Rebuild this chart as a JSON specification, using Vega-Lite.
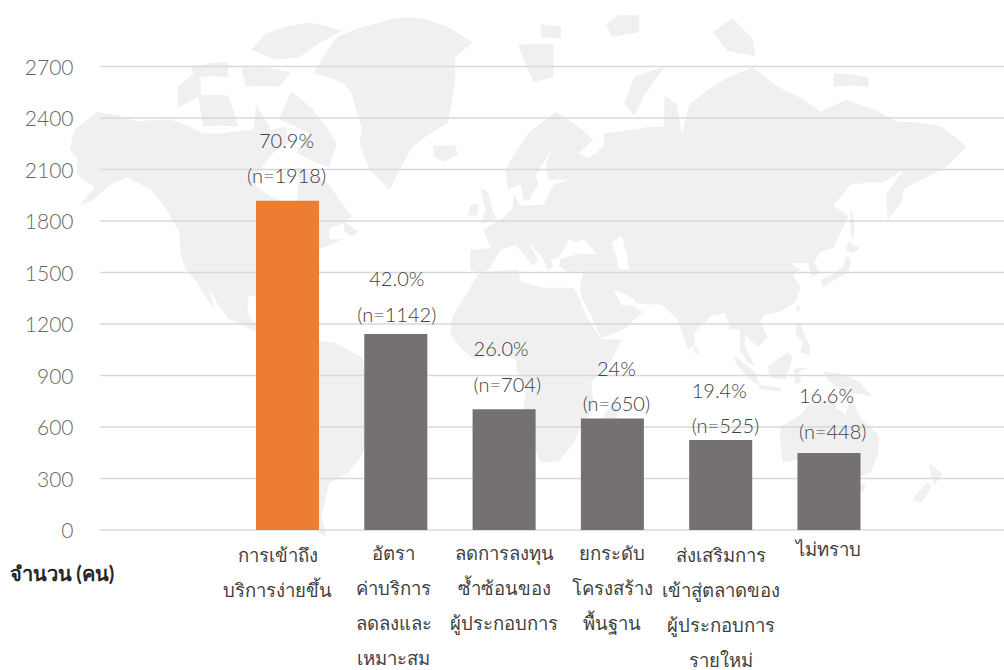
{
"$schema":"https://vega.github.io/schema/vega-lite/v6.json",
"width":904,"height":463.5,"autosize":{"type":"none"},"padding":{"left":100,"top":66.5,"right":0,"bottom":140},
"background":"white",
"config":{"view":{"stroke":null},"font":"Lato","text":{"fontWeight":300}},
"layer":[
{"data":{"values":{"type":"FeatureCollection","features":[{"type":"Feature","properties":{"name":"world"},"geometry":{"type":"MultiPolygon","coordinates":[
[[[-168,65.6],[-166,68.5],[-157,71],[-141,69.7],[-128,70],[-115,68],[-108,68],[-95,68.5],[-94,72],[-88,68.5],[-82,69],[-81,66.5],[-87,65],[-94,61],[-94,58.7],[-88,56.5],[-82,55],[-80,51.5],[-78,55],[-77,60],[-78,62.4],[-70,61],[-65,59],[-60,55],[-56,52],[-60,50],[-65,49],[-65,46],[-60,46],[-66,44],[-70,43],[-74,40.5],[-76,37],[-76,35],[-81,31],[-80,26],[-81,25],[-83,29],[-90,29],[-97,28],[-97.5,22],[-95,18.5],[-91,18.5],[-90,21],[-87,21],[-88,16],[-84,15],[-83.5,10],[-80,9],[-77.5,8.5],[-80,7],[-85,10],[-91,14],[-96,16],[-105,20],[-109,25],[-113,31],[-110,23],[-115,29],[-117.5,33],[-122,37],[-124,42],[-124.5,48],[-130,54],[-136,58],[-145,60.5],[-152,59],[-158,56],[-164,54.5],[-158,58.5],[-165,61],[-165,64],[-168,65.6]]],
[[[-80,73.5],[-72,71.5],[-62,66.5],[-65,62.5],[-72,63.5],[-78,65],[-73,68],[-85,70],[-80,73.5]]],
[[[-117,73],[-105,73],[-101,69],[-115,69],[-117,73]]],
[[[-125,74],[-116,76],[-116,73],[-125,71.5],[-125,74]]],
[[[-96,77.6],[-90,78.9],[-73,79.7],[-60,79.1],[-69,78.1],[-77,76.9],[-86,76.7],[-96,77.6]]],
[[[-100,76],[-80,75.5],[-85,74],[-98,74],[-100,76]]],
[[[-120,76],[-105,76.5],[-105,75],[-118,75],[-120,76]]],
[[[-59,50.5],[-53,48],[-56,46.8],[-59,48],[-59,50.5]]],
[[[-62,78.6],[-45,79.7],[-33,80.1],[-18,79.4],[-8,78.2],[-15,76.9],[-15,74.4],[-18,69.5],[-32,65.9],[-41,57.9],[-49,61.9],[-53,66.5],[-52,68.9],[-54,70.9],[-56,73.3],[-59.5,74.4],[-71,75.4],[-62,78.6]]],
[[[-24,66],[-15,66.3],[-14,64.7],[-19,63.4],[-23,64],[-24,66]]],
[[[-77,8],[-72,12],[-62,10.5],[-52,5],[-50,0],[-44,-2.5],[-35,-6],[-39,-15],[-41,-22],[-48,-26],[-54,-34.5],[-58,-38],[-65,-41],[-68,-50],[-66,-55],[-72,-53],[-74,-45],[-73,-37],[-70,-18],[-76,-14],[-81,-5],[-80,1],[-77.5,4],[-77,8]]],
[[[-6,35.5],[10,37],[11,33],[20,31],[32,31],[34,28],[37,21],[43,12],[51,12],[47,4],[39,-5],[40,-15],[35,-22],[32,-28],[26,-34],[19,-34.5],[15,-26],[12,-16],[13.5,-6],[9,0],[9.5,4],[4,6],[-8,4.5],[-13,9],[-17,14.5],[-16,21],[-10,29.5],[-6,35.5]]],
[[[49.5,-12],[50,-16],[47,-25],[44,-24],[44,-17],[49.5,-12]]],
[[[-9,43],[-1,43.5],[-4,48.5],[3,51],[8,54],[8,57],[11,54.5],[20,54.7],[24,59],[30,60],[22,60],[21,63],[24,66],[17,61],[18,59],[14,55.5],[12,56],[11,59],[6,58],[5,62],[14,68],[25,71],[40,67],[34,65],[38,64],[44,66],[44,68],[54,68.5],[68,69],[68,73],[73,72],[75,68],[78,72],[87,74],[103,76],[113,74],[130,71],[140,72.5],[160,69.7],[178,69],[188,66],[180,62.5],[170,60],[163,58],[162,55],[156.5,51],[156,57],[163,62],[155,59.5],[142,59],[135,54.5],[141,52],[135,43.5],[130,42.5],[127.5,39.5],[129.5,36],[126.5,34.5],[125,39],[121,39],[118,39],[122,37],[119,35],[122,31],[120,26],[114,22.5],[108,21.5],[106,19],[109,13],[105,9],[103,11],[100,13.5],[100,9],[104,1.5],[101,3],[98,8],[98,16],[94,16],[92,22],[87,21],[80,15],[80,10],[77.5,8],[73,20],[67,25],[57,25.5],[56,27],[50,30],[48,30],[51,25],[56,24.5],[59.5,22.5],[52,16],[43,12.5],[39,21],[35,28],[34.5,31.5],[36,36.5],[30,36],[26.5,38],[26.5,40.2],[35,42],[41.5,41.5],[38,44.5],[36,46],[33,45],[30,46],[28,43],[26,40.7],[23,40],[24,38],[22,36.7],[19.5,41],[14,45],[18,40],[16,38],[12,42],[9,44.3],[3,43],[0,39],[-2,36.7],[-6,36],[-9,37],[-9,43]],[[50,37],[54,37],[53,42],[51,47],[47,45],[49,41],[50,37]]],
[[[-5,58.5],[-2,57.5],[0,53],[1.5,51.3],[-5,50],[-3,53.5],[-5,58.5]]],
[[[-9,54.5],[-6,55],[-6,52.2],[-10,52],[-9,54.5]]],
[[[10,78],[24,78],[24,75],[16,74.5],[10,78]]],
[[[19,79.6],[27,79.4],[27,78.5],[19,78.6],[19,79.6]]],
[[[52,72],[56,75],[68,76],[60,73],[56,70.5],[52,72]]],
[[[45,79.6],[50,80.2],[58,80.2],[58,79],[47,78.6],[45,79.6]]],
[[[87,79],[95,80],[103,78.5],[104,77],[93,77.5],[87,79]]],
[[[135,75.4],[149,75],[149,74],[135,74],[135,75.4]]],
[[[142,54],[143.5,50],[143,46],[142,47],[141.8,52],[142,54]]],
[[[140,41],[141.5,41],[142,39],[141,36],[137,34.5],[131,31],[130,33.5],[135,35.5],[139,38],[140,41]]],
[[[141,45.5],[145.5,43.5],[143,42],[140,42.5],[141,45.5]]],
[[[121,25],[122,24],[120.8,22],[120,23.5],[121,25]]],
[[[120.5,18.5],[122,18],[124,13],[126,9],[125.5,6],[122,7],[123,11],[120,14],[120.5,18.5]]],
[[[109,1.5],[117,7],[119,5],[117.5,0.5],[116,-4],[110,-3],[109,1.5]]],
[[[95,5.5],[98,4],[104,-1],[106,-6],[102,-4],[97,2],[95,5.5]]],
[[[105.5,-6],[114,-7],[114.5,-8.5],[106,-7.5],[105.5,-6]]],
[[[119.5,0.5],[125,1],[121,-1],[122.5,-5],[120,-5.5],[119.5,0.5]]],
[[[131,-0.5],[138,-1.5],[145,-4.5],[150.5,-10.5],[143,-9],[138,-8],[133,-4],[131,-0.5]]],
[[[114,-22],[122,-17.5],[125,-14],[130,-12],[136,-12],[136,-15],[140,-17.5],[142,-11],[146,-19],[153,-25],[153,-31],[150,-37.5],[146,-39],[140,-38],[136,-35],[131,-31.5],[124,-33],[115,-34.5],[114,-27],[114,-22]]],
[[[145,-41],[148,-41],[147,-43.5],[146,-43.5],[145,-41]]],
[[[173,-34.5],[178.5,-38],[175,-41.5],[174,-39],[173,-34.5]]],
[[[172.5,-40.5],[174,-42],[170,-46.5],[166.5,-46],[168,-44],[172.5,-40.5]]],
[[[80,9.5],[82,7.5],[80.5,6],[79.8,8],[80,9.5]]],
[[[-85,22],[-80,23],[-74,20.2],[-78,20],[-85,22]]],
[[[-74,20],[-68.5,18.5],[-71.5,18],[-74,18.3],[-74,20]]]
]}}]},"format":{"type":"json","property":"features"}},
"projection":{"type":"mercator","scale":144.4,"translate":[420.7,303.5],"rotate":[-11,0,0]},
"mark":{"type":"geoshape","fill":"#f0f0f0","stroke":null,"clip":false},"encoding":{}},
{"data":{"values":[
{"k":"การเข้าถึง|บริการง่ายขึ้น","v":1918,"c":"o","t":"70.9%|(n=1918)"},
{"k":"อัตรา|ค่าบริการ|ลดลงและ|เหมาะสม","v":1142,"c":"g","t":"42.0%|(n=1142)"},
{"k":"ลดการลงทุน|ซ้ำซ้อนของ|ผู้ประกอบการ","v":704,"c":"g","t":"26.0%|(n=704)"},
{"k":"ยกระดับ|โครงสร้าง|พื้นฐาน","v":650,"c":"g","t":"24%|(n=650)"},
{"k":"ส่งเสริมการ|เข้าสู่ตลาดของ|ผู้ประกอบการ|รายใหม่","v":525,"c":"g","t":"19.4%|(n=525)"},
{"k":"ไม่ทราบ","v":448,"c":"g","t":"16.6%|(n=448)"}
]},
"encoding":{
"x":{"field":"k","type":"nominal","sort":null,"scale":{"paddingInner":0.418,"paddingOuter":1,"range":[47.7,868.8]},
"axis":{"title":null,"domain":false,"ticks":false,"labelAngle":0,"labelExpr":"split(datum.label,'|')","labelFontSize":18.5,"labelColor":"#404040","labelLineHeight":35,"labelBaseline":"top","labelLimit":200,
"labelPadding":{"condition":[{"test":"indexof(datum.value,'ไม่ทราบ')>=0","value":10},{"test":"indexof(datum.value,'การเข้าถึง')>=0 || indexof(datum.value,'ส่งเสริมการ')>=0","value":16}],"value":14},
"labelOffset":{"condition":[{"test":"indexof(datum.value,'การเข้าถึง')>=0","value":-10},{"test":"indexof(datum.value,'อัตรา')>=0","value":-2}],"value":0}}},
"y":{"field":"v","type":"quantitative","scale":{"domain":[0,2700]},
"axis":{"title":"จำนวน (คน)","titleAngle":0,"titleX":-91,"titleY":508,"titleAlign":"left","titleBaseline":"middle","titleFontSize":20,"titleFontWeight":"bold","titleColor":"#262626","format":"d","grid":false,
"values":[0,300,600,900,1200,1500,1800,2100,2400,2700],"domain":false,"ticks":false,"labelFontSize":21,"labelFontWeight":300,"labelColor":"#666666","labelPadding":27,"labelOffset":1.5}}
},
"layer":[
{"data":{"values":[{"g":0},{"g":300},{"g":600},{"g":900},{"g":1200},{"g":1500},{"g":1800},{"g":2100},{"g":2400},{"g":2700}]},
"mark":{"type":"rule","color":"#d9d9d9","strokeWidth":1.5},
"encoding":{"x":{"value":0},"x2":{"value":904},"y":{"field":"g","type":"quantitative"}}},
{"mark":{"type":"bar"},"encoding":{"color":{"field":"c","type":"nominal","legend":null,"scale":{"domain":["o","g"],"range":["#ed7d31","#767171"]}}}},
{"transform":[{"filter":"datum.v==1918"}],"mark":{"type":"text","baseline":"bottom","fontSize":20,"color":"#404040","lineHeight":35,"lineBreak":"|","dy":-49,"dx":-1},"encoding":{"text":{"field":"t"}}},
{"transform":[{"filter":"datum.v==1142"}],"mark":{"type":"text","baseline":"bottom","fontSize":20,"color":"#404040","lineHeight":36,"lineBreak":"|","dy":-44,"dx":1},"encoding":{"text":{"field":"t"}}},
{"transform":[{"filter":"datum.v==704"}],"mark":{"type":"text","baseline":"bottom","align":"left","fontSize":20,"color":"#404040","lineHeight":36,"lineBreak":"|","dy":-49,"dx":-30.5},"encoding":{"text":{"field":"t"}}},
{"transform":[{"filter":"datum.v==650"}],"mark":{"type":"text","baseline":"bottom","fontSize":20,"color":"#404040","lineHeight":35,"lineBreak":"|","dy":-38,"dx":4},"encoding":{"text":{"field":"t"}}},
{"transform":[{"filter":"datum.v==525"}],"mark":{"type":"text","baseline":"bottom","align":"left","fontSize":20,"color":"#404040","lineHeight":35,"lineBreak":"|","dy":-38,"dx":-29},"encoding":{"text":{"field":"t"}}},
{"transform":[{"filter":"datum.v==448"}],"mark":{"type":"text","baseline":"bottom","align":"left","fontSize":20,"color":"#404040","lineHeight":36,"lineBreak":"|","dy":-46,"dx":-30},"encoding":{"text":{"field":"t"}}}
]}
]
}
